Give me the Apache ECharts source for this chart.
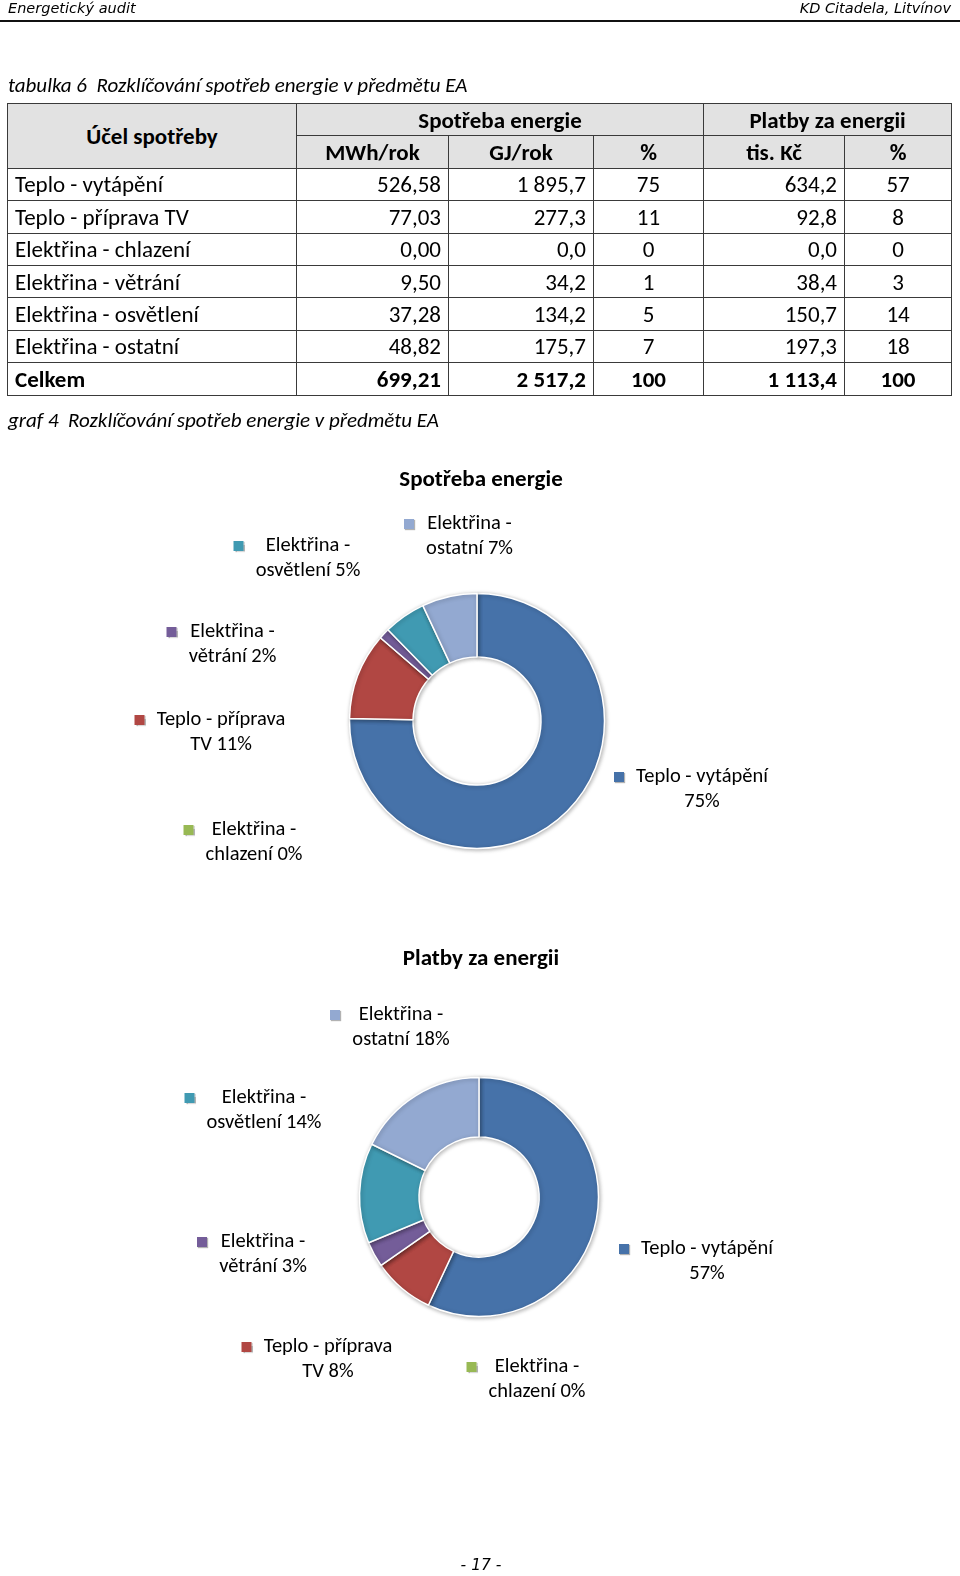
<!DOCTYPE html>
<html>
<head>
<meta charset="utf-8">
<script src="https://cdn.jsdelivr.net/npm/echarts@6/dist/echarts.min.js"></script>
<style>
html,body{margin:0;padding:0;background:#fff;}
body{width:960px;height:1576px;position:relative;overflow:hidden;font-family:Carlito,Lato,"Open Sans",sans-serif;color:#000;}
#chart{position:absolute;left:0;top:0;width:960px;height:1576px;z-index:0;}
.hdr{position:absolute;top:0;font-family:"DejaVu Sans",sans-serif;font-style:italic;font-size:14.5px;line-height:17px;z-index:1;}
.rule{position:absolute;left:0;top:20px;width:960px;height:2px;background:#111;z-index:1;}
.cap{position:absolute;left:8px;font-style:italic;font-size:21px;line-height:24px;white-space:pre;z-index:1;}
.foot{position:absolute;left:0;width:962px;text-align:center;top:1556px;font-family:"DejaVu Sans",sans-serif;font-style:italic;font-size:15.5px;line-height:18px;z-index:1;}
#tbl{position:absolute;left:7px;top:103px;width:944px;border-collapse:collapse;table-layout:fixed;font-size:23px;z-index:1;}
#tbl td,#tbl th{border:1.5px solid #3a3a3a;padding:0 7px;height:31.4px;line-height:22px;white-space:nowrap;overflow:hidden;}
#tbl th{background:#e2e2e2;font-weight:bold;text-align:center;}
#tbl td.n{text-align:right;}
#tbl td.c{text-align:center;}
#tbl tr.tot td{font-weight:bold;}
</style>
</head>
<body>
<div id="chart"></div>
<div class="hdr" style="left:8px">Energetický audit</div>
<div class="hdr" style="right:9px">KD Citadela, Litvínov</div>
<div class="rule"></div>
<div class="cap" style="top:73px">tabulka 6  Rozklíčování spotřeb energie v předmětu EA</div>
<table id="tbl">
<colgroup><col style="width:289px"><col style="width:152px"><col style="width:145px"><col style="width:110px"><col style="width:141px"><col style="width:107px"></colgroup>
<thead>
<tr><th rowspan="2" id="h0"></th><th colspan="3" id="h1"></th><th colspan="2" id="h2"></th></tr>
<tr id="h3"></tr>
</thead>
<tbody id="tb"></tbody>
</table>
<div class="cap" style="top:408px">graf 4  Rozklíčování spotřeb energie v předmětu EA</div>
<div class="foot">- 17 -</div>
<script>
// ---------- DATA ----------
const categories = ['Teplo - vytápění', 'Teplo - příprava TV', 'Elektřina - chlazení', 'Elektřina - větrání', 'Elektřina - osvětlení', 'Elektřina - ostatní'];
const mwhRok = [526.58, 77.03, 0.00, 9.50, 37.28, 48.82];
const gjRok = [1895.7, 277.3, 0.0, 34.2, 134.2, 175.7];
const spotrebaPct = [75, 11, 0, 1, 5, 7];
const tisKc = [634.2, 92.8, 0.0, 38.4, 150.7, 197.3];
const platbyPct = [57, 8, 0, 3, 14, 18];
const celkemLabel = 'Celkem';
const celkem = ['699,21', '2 517,2', '100', '1 113,4', '100'];
const headTop = ['Účel spotřeby', 'Spotřeba energie', 'Platby za energii'];
const headSub = ['MWh/rok', 'GJ/rok', '%', 'tis. Kč', '%'];
const chartTitles = ['Spotřeba energie', 'Platby za energii'];
const chartSpotrebaPct = [75, 11, 0, 2, 5, 7];
const chartPlatbyPct = [57, 8, 0, 3, 14, 18];

// ---------- STYLE / LAYOUT ----------
const colors = ['#4672A9', '#B14743', '#98B954', '#745D99', '#409AB2', '#93A9D1'];
const FONT = 'Carlito, Lato, "Open Sans", sans-serif';
const LABEL_SIZE = 20.5, LINE_H = 25;
const MARK = 10, GAP = 11;
const pieLayouts = [
  { center: [477, 721], radius: [64, 127.5], titleY: 478,
    anchors: [[225, 56], [-256, -1], [-223, 109], [-244.5, -89], [-169, -175], [-7.5, -197]] },
  { center: [479, 1197], radius: [60, 119.5], titleY: 957,
    anchors: [[228, 52], [-151, 150], [58, 170], [-216, 45], [-215, -99], [-78, -182]] }
];

// ---------- TABLE ----------
function fmt(v, d) {
  const s = v.toFixed(d).split('.');
  const intPart = s[0].replace(/\B(?=(\d{3})+(?!\d))/g, ' ');
  return s.length > 1 ? intPart + ',' + s[1] : intPart;
}
document.getElementById('h0').textContent = headTop[0];
document.getElementById('h1').textContent = headTop[1];
document.getElementById('h2').textContent = headTop[2];
const h3 = document.getElementById('h3');
headSub.forEach(t => { const th = document.createElement('th'); th.textContent = t; h3.appendChild(th); });
const tb = document.getElementById('tb');
function addRow(cells, cls, rowCls) {
  const tr = document.createElement('tr');
  if (rowCls) tr.className = rowCls;
  cells.forEach((t, i) => { const td = document.createElement('td'); td.textContent = t; if (cls[i]) td.className = cls[i]; tr.appendChild(td); });
  tb.appendChild(tr);
}
const cellCls = ['', 'n', 'n', 'c', 'n', 'c'];
categories.forEach((c, i) => {
  addRow([c, fmt(mwhRok[i], 2), fmt(gjRok[i], 1), String(spotrebaPct[i]), fmt(tisKc[i], 1), String(platbyPct[i])], cellCls);
});
addRow([celkemLabel].concat(celkem), cellCls, 'tot');

// ---------- CHARTS ----------
const mctx = document.createElement('canvas').getContext('2d');
mctx.font = LABEL_SIZE + 'px ' + FONT;
function wrap(text, maxChars) {
  const words = text.split(' ');
  const lines = [];
  let cur = '';
  words.forEach(w => {
    const cand = cur ? cur + ' ' + w : w;
    if (cand.length > maxChars && cur) { lines.push(cur); cur = w; } else { cur = cand; }
  });
  if (cur) lines.push(cur);
  return lines;
}
function labelLines(name, pct) {
  return wrap(name + ' ' + pct + '%', 16);
}

function buildPie(values, pcts, lay) {
  const infos = categories.map((name, i) => {
    const lines = labelLines(name, pcts[i]);
    const W = Math.ceil(Math.max.apply(null, lines.map(l => mctx.measureText(l).width))) + 2;
    return { lines, W };
  });
  return {
    type: 'pie',
    center: lay.center,
    radius: lay.radius,
    startAngle: 90,
    clockwise: true,
    avoidLabelOverlap: false,
    animation: false,
    emphasis: { disabled: true },
    itemStyle: { borderColor: '#fff', borderWidth: 1.5, shadowBlur: 4, shadowOffsetX: 1, shadowOffsetY: 1, shadowColor: 'rgba(0,0,0,0.3)' },
    labelLine: { show: false },
    data: categories.map((name, i) => ({
      name, value: values[i],
      itemStyle: { color: colors[i] },
      label: {
        show: true,
        position: 'outside',
        formatter: () => infos[i].lines.map((l, k) => (k === 0 ? '{m|}{g|}' : '{s|}') + '{t|' + l + '}').join('\n'),
        rich: {
          m: { width: MARK, height: MARK, backgroundColor: colors[i], align: 'left', shadowColor: 'rgba(0,0,0,0.3)', shadowOffsetX: 1, shadowOffsetY: 1, shadowBlur: 1 },
          g: { width: GAP, align: 'left' },
          s: { width: MARK + GAP, align: 'left' },
          t: { width: infos[i].W, align: 'center', fontSize: LABEL_SIZE, lineHeight: LINE_H, fontFamily: FONT, color: '#000' }
        }
      }
    })),
    labelLayout: p => {
      const i = p.dataIndex;
      const a = lay.anchors[i];
      return {
        x: lay.center[0] + a[0] - infos[i].W / 2 - MARK - GAP,
        y: lay.center[1] + a[1] - LINE_H / 2,
        align: 'left',
        verticalAlign: 'top'
      };
    }
  };
}

const chart = echarts.init(document.getElementById('chart'), null, { renderer: 'canvas' });
chart.setOption({
  animation: false,
  backgroundColor: 'transparent',
  title: chartTitles.map((t, k) => ({
    text: t, left: 476, top: pieLayouts[k].titleY - 14, textAlign: 'center',
    textStyle: { fontFamily: FONT, fontSize: 23, fontWeight: 'bold', color: '#000' }
  })),
  series: [
    buildPie(mwhRok, chartSpotrebaPct, pieLayouts[0]),
    buildPie(tisKc, chartPlatbyPct, pieLayouts[1])
  ]
});
</script>
</body>
</html>
